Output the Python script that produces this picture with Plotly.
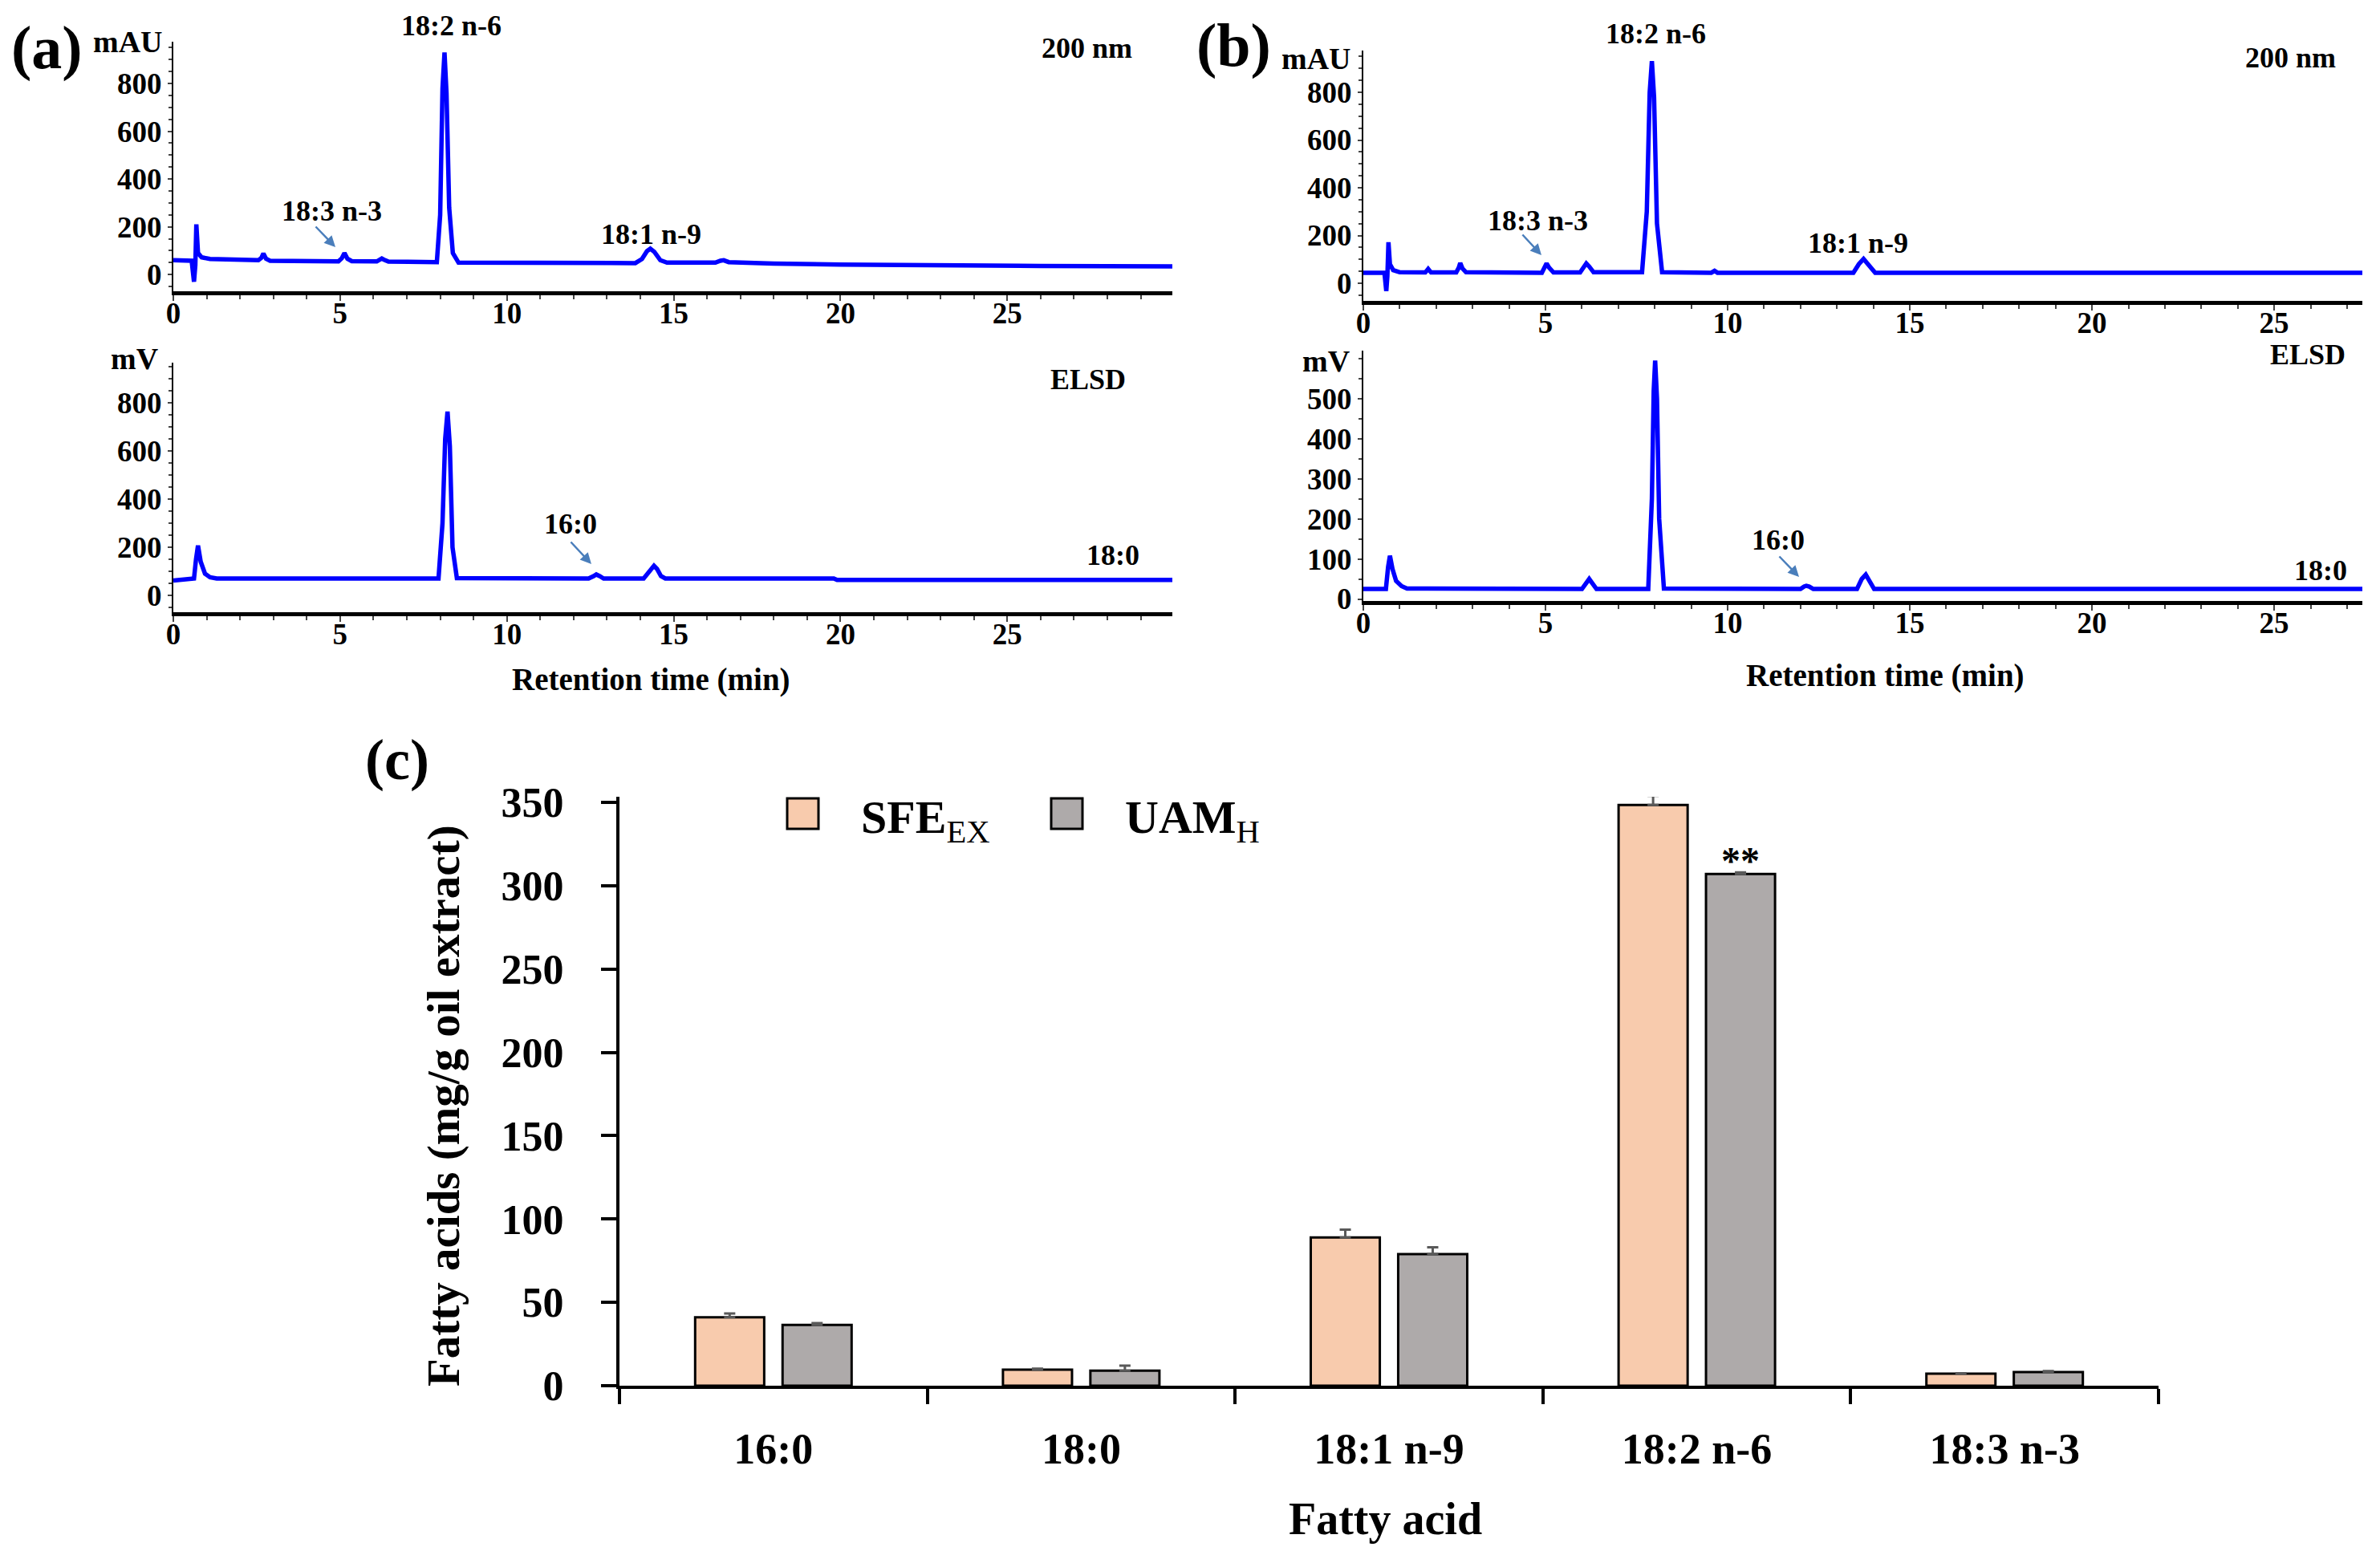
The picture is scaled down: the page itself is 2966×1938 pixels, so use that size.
import plotly.graph_objects as go

# screen size and the browser's default 8 px body margin
W, H = 2966, 1938
PAD = 8
FW, FH = W - 2 * PAD, H - 2 * PAD
FONT = "Liberation Serif"
BLUE = "#0000FF"
ARROW = "#4A7EBB"

# (a) chromatograms, points (time in min)
a_uv_time = [0, 0.55, 0.62, 0.66, 0.69, 0.74, 0.85, 1.1, 2.55, 2.64, 2.70, 2.78, 2.9,
             4.95, 5.05, 5.13, 5.22, 5.35, 6.1, 6.2, 6.25, 6.32, 6.45,
             7.9, 8.0, 8.07, 8.13, 8.19, 8.27, 8.38, 8.55,
             13.85, 14.05, 14.2, 14.3, 14.42, 14.6, 14.8,
             16.25, 16.4, 16.5, 16.65, 18, 20, 23, 26, 29.95]
a_uv_mau = [60, 58, -30, 40, 210, 90, 72, 65, 60, 70, 88, 66, 58,
            55, 68, 90, 66, 56, 55, 64, 67, 62, 54,
            52, 250, 780, 930, 760, 280, 90, 50,
            48, 65, 98, 108, 95, 60, 50,
            50, 58, 60, 52, 46, 42, 38, 36, 34]

a_elsd_time = [0, 0.5, 0.62, 0.68, 0.74, 0.82, 0.95, 1.1, 1.3,
               7.95, 8.07, 8.15, 8.22, 8.29, 8.37, 8.5,
               12.45, 12.6, 12.68, 12.78, 12.9,
               14.1, 14.25, 14.35, 14.41, 14.5, 14.62, 14.75, 19.8, 19.9, 29.95]
a_elsd_mv = [62, 68, 70, 150, 207, 140, 90, 75, 70,
             70, 300, 650, 764, 620, 200, 72,
             70, 80, 87, 80, 70,
             70, 95, 118, 123, 110, 80, 70, 70, 64, 64]

# (b) chromatograms
b_uv_time = [0, 0.58, 0.63, 0.66, 0.69, 0.73, 0.82, 1.0, 1.7, 1.78, 1.86,
             2.55, 2.62, 2.66, 2.72, 2.82, 4.9, 4.97, 5.03, 5.1, 5.22,
             5.95, 6.05, 6.12, 6.2, 6.32, 7.65, 7.78, 7.86, 7.92, 7.98, 8.06, 8.2,
             9.55, 9.64, 9.72, 13.45, 13.6, 13.73, 13.86, 14.05, 20, 27.42]
b_uv_mau = [44, 44, -33, 30, 172, 80, 55, 46, 45, 60, 45,
            45, 65, 85, 62, 46, 44, 65, 83, 65, 45,
            45, 70, 83, 70, 46, 46, 300, 800, 931, 780, 250, 46,
            44, 52, 44, 44, 80, 102, 78, 44, 44, 44]

b_elsd_time = [0, 0.62, 0.68, 0.73, 0.8, 0.9, 1.05, 1.2, 6.0, 6.12, 6.2, 6.28, 6.4,
               7.82, 7.92, 7.97, 8.01, 8.06, 8.12, 8.25,
               12.0, 12.1, 12.16, 12.24, 12.35, 13.55, 13.68, 13.79, 13.88, 14.02, 27.42]
b_elsd_mv = [25, 25, 80, 108, 75, 45, 32, 26, 25, 40, 50, 40, 25,
             25, 250, 520, 595, 500, 200, 26,
             25, 31, 33, 31, 25, 25, 50, 61, 48, 25, 25]

# (c) fatty acid content, mg/g oil extract
fatty_acids = ["16:0", "18:0", "18:1 n-9", "18:2 n-6", "18:3 n-3"]
sfe_ex = [41, 9.6, 89, 348.5, 7.2]
sfe_ex_err = [2.3, 0.6, 4.7, 5.5, 0.3]
uam_h = [36.5, 9.0, 79, 307, 8.2]
uam_h_err = [1.0, 3.0, 4.0, 1.0, 0.6]
y_ticks_c = [0, 50, 100, 150, 200, 250, 300, 350]


def px(x):
    return (x - PAD) / FW


def py(y):
    return 1 - (y - PAD) / FH


def font(size, color="black", bold=True):
    return dict(family=FONT, size=size, color=color, weight="bold" if bold else "normal")


def chrom_axes(x_px, y_px, yanchor, xanchor, xrange, yrange, yticks):
    xa = dict(domain=[px(x_px[0]), px(x_px[1])], range=xrange, anchor=yanchor,
              showline=True, linecolor="black", linewidth=5, automargin=False,
              ticks="outside", ticklen=7, tickwidth=2, dtick=5, tick0=0, ticklabelstandoff=-16,
              minor=dict(dtick=1, ticks="outside", ticklen=5, tickwidth=1.5),
              showgrid=False, zeroline=False, tickfont=font(37))
    ya = dict(domain=[py(y_px[0]), py(y_px[1])], range=yrange, anchor=xanchor,
              showline=True, linecolor="black", linewidth=2, automargin=False,
              ticks="outside", ticklen=5, tickwidth=2, tickvals=yticks,
              minor=dict(dtick=50, ticks="outside", ticklen=4, tickwidth=1.5),
              showgrid=False, zeroline=False, tickfont=font(37))
    return xa, ya


fig = go.Figure()

traces = [(a_uv_time, a_uv_mau, "x", "y"),
          (a_elsd_time, a_elsd_mv, "x2", "y2"),
          (b_uv_time, b_uv_mau, "x3", "y3"),
          (b_elsd_time, b_elsd_mv, "x4", "y4")]
for t, v, xa, ya in traces:
    fig.add_trace(go.Scatter(x=t, y=v, xaxis=xa, yaxis=ya, mode="lines",
                             line=dict(color=BLUE, width=5.5), showlegend=False))

fig.add_trace(go.Bar(x=fatty_acids, y=sfe_ex, name="SFE", xaxis="x5", yaxis="y5",
                     marker=dict(color="#F8CBAD", line=dict(color="black", width=3)),
                     error_y=dict(type="data", array=sfe_ex_err, arrayminus=[0] * 5,
                                  symmetric=False, color="#595959", thickness=3, width=7),
                     showlegend=False))
fig.add_trace(go.Bar(x=fatty_acids, y=uam_h, name="UAM", xaxis="x5", yaxis="y5",
                     marker=dict(color="#AEAAAA", line=dict(color="black", width=3)),
                     error_y=dict(type="data", array=uam_h_err, arrayminus=[0] * 5,
                                  symmetric=False, color="#595959", thickness=3, width=7),
                     showlegend=False))

xa1, ya1 = chrom_axes((216, 1461), (363, 52), "y", "x", [0, 29.95], [-70, 975],
                      [0, 200, 400, 600, 800])
xa2, ya2 = chrom_axes((216, 1461), (763, 452), "y2", "x2", [0, 29.95], [-70, 967],
                      [0, 200, 400, 600, 800])
xa3, ya3 = chrom_axes((1699, 2944), (375, 63), "y3", "x3", [0, 27.42], [-74, 975],
                      [0, 200, 400, 600, 800])
xa4, ya4 = chrom_axes((1699, 2944), (749, 437), "y4", "x4", [0, 27.42], [-5, 620],
                      [0, 100, 200, 300, 400, 500])

xa5 = dict(domain=[px(772), px(2690)], anchor="y5", type="category", range=[-0.5, 4.5],
           showline=True, linecolor="black", linewidth=4, ticks="outside", tickson="boundaries",
           ticklen=19, tickwidth=4, tickcolor="black", ticklabelstandoff=28, automargin=False,
           showgrid=False, zeroline=False, tickfont=font(54))
ya5 = dict(domain=[py(1727), py(993)], anchor="x5", range=[0, 353.4], automargin=False,
           tickvals=y_ticks_c, showline=True, linecolor="black", linewidth=4,
           ticks="outside", ticklen=19, tickwidth=4, tickcolor="black", ticklabelstandoff=36,
           showgrid=False, zeroline=False, tickfont=font(52))

annotations = []


def add_text(text, x, y, size, xanchor="center", angle=0):
    annotations.append(dict(text=text, x=px(x), y=py(y), xref="paper", yref="paper",
                            showarrow=False, xanchor=xanchor, yanchor="middle",
                            textangle=angle, font=font(size)))


def add_arrow(tail, head):
    annotations.append(dict(text="", x=px(head[0]), y=py(head[1]), xref="paper", yref="paper",
                            showarrow=True, ax=tail[0] - head[0], ay=tail[1] - head[1],
                            arrowhead=2, arrowsize=1.1, arrowwidth=2.5,
                            arrowcolor=ARROW, standoff=0))


# peak labels and arrows (screen pixels)
peak_labels = [("18:2 n-6", 562, 32), ("18:3 n-3", 413, 263), ("18:1 n-9", 812, 292),
               ("200 nm", 1354, 60), ("ELSD", 1356, 473), ("16:0", 711, 653), ("18:0", 1387, 692),
               ("18:2 n-6", 2063, 42), ("18:3 n-3", 1916, 275), ("18:1 n-9", 2315, 303),
               ("200 nm", 2854, 72), ("ELSD", 2876, 442), ("16:0", 2216, 673), ("18:0", 2892, 711)]
for text, x, y in peak_labels:
    add_text(text, x, y, 36)

for tail, head in [((392, 281), (418, 308)), ((710, 674), (737, 703)),
                   ((1896, 291), (1921, 318)), ((2216, 692), (2242, 719))]:
    add_arrow(tail, head)

# panel letters, units and axis titles
for text, x, y, size in [("(a)", 58, 60, 76), ("mAU", 159, 52, 38), ("mV", 168, 447, 38),
                         ("Retention time (min)", 812, 847, 39),
                         ("(b)", 1537, 57, 76), ("mAU", 1640, 73, 38), ("mV", 1653, 450, 38),
                         ("Retention time (min)", 2349, 842, 39),
                         ("(c)", 495, 947, 72), ("Fatty acid", 1726, 1893, 56)]:
    add_text(text, x, y, size)

add_text("Fatty acids (mg/g oil extract)", 553, 1378, 57, angle=-90)

# significance mark over UAM 18:2 n-6
annotations.append(dict(text="**", x="18:2 n-6", y=uam_h[3] + uam_h_err[3], xref="x5", yref="y5",
                        xshift=54, yshift=-14, showarrow=False, yanchor="bottom", font=font(48)))

# legend drawn by hand to match the large boxes
shapes = []
for x0, color, label, sub in [(981, "#F8CBAD", "SFE", "EX"), (1310, "#AEAAAA", "UAM", "H")]:
    shapes.append(dict(type="rect", xref="paper", yref="paper", x0=px(x0), x1=px(x0 + 39),
                       y0=py(1033), y1=py(995), fillcolor=color, line=dict(color="black", width=3)))
    annotations.append(dict(text=f"<b>{label}</b><sub>{sub}</sub>", x=px(x0 + 90), y=py(1022),
                            xref="paper", yref="paper", showarrow=False, xanchor="left",
                            yanchor="middle", font=font(58, bold=False)))

fig.update_layout(
    width=FW, height=FH, margin=dict(l=0, r=0, t=0, b=0, autoexpand=False),
    paper_bgcolor="white", plot_bgcolor="white",
    xaxis=xa1, yaxis=ya1, xaxis2=xa2, yaxis2=ya2,
    xaxis3=xa3, yaxis3=ya3, xaxis4=xa4, yaxis4=ya4,
    xaxis5=xa5, yaxis5=ya5,
    barmode="group", bargap=0.432, bargroupgap=0.21,
    annotations=annotations, shapes=shapes, showlegend=False,
    font=dict(family=FONT, color="black"),
)

fig.write_html("out.html")
